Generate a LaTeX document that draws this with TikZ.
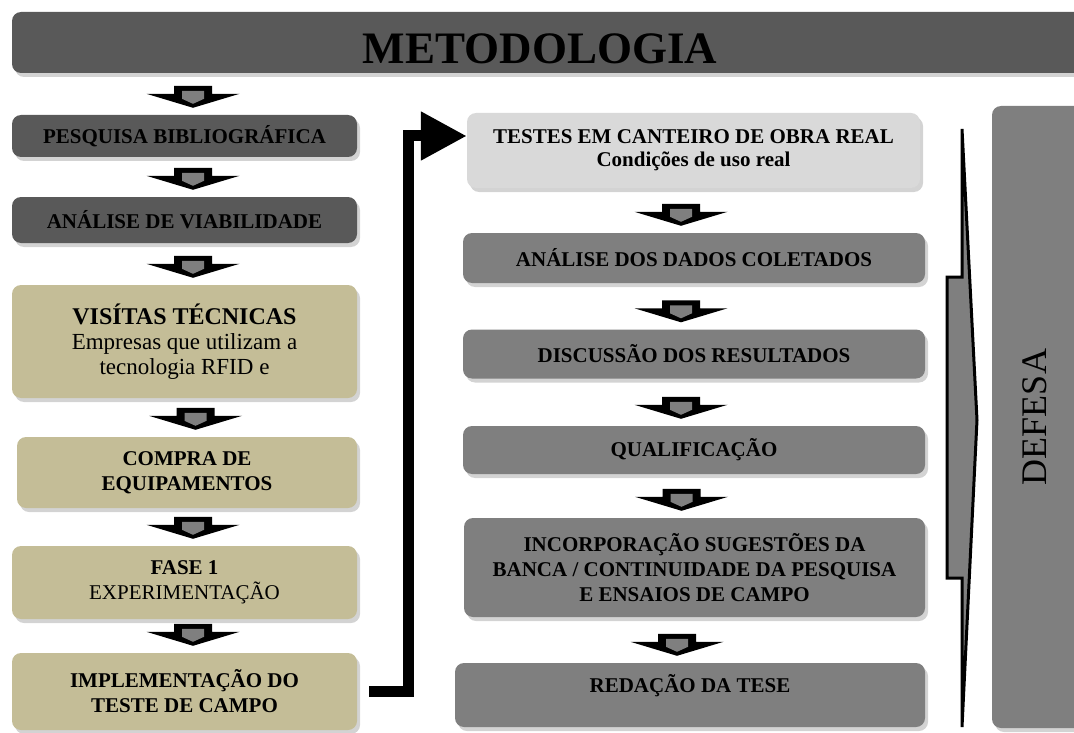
\documentclass[tikz,border=0pt]{standalone}
\usepackage{fontspec}
\setmainfont{Liberation Serif}
\usepackage{graphicx}
\usepackage{tikz}
\usetikzlibrary{positioning,arrows.meta,calc,shadows}
\definecolor{boxdark}{HTML}{595959}
\definecolor{boxmid}{HTML}{7F7F7F}
\definecolor{boxlight}{HTML}{D9D9D9}
\definecolor{boxtan}{HTML}{C4BD97}

\begin{document}
\begin{tikzpicture}[
    x=1pt, y=-1pt,
    basebox/.style={
      rounded corners=9pt,
      align=center,
      inner sep=0pt,
      text=black,
      font=\fontsize{21}{25}\selectfont\bfseries,
      drop shadow={shadow xshift=3pt, shadow yshift=-4pt, opacity=.35}
    },
    darkbox/.style={basebox, fill=boxdark},
    midbox/.style={basebox, fill=boxmid},
    lightbox/.style={basebox, fill=boxlight},
    tanbox/.style={basebox, fill=boxtan},
    titlebox/.style={basebox, fill=boxdark, font=\fontsize{45}{50}\selectfont\bfseries,
      text height=42pt, text depth=0pt},
    jump/.style={-{Triangle[length=46pt,width=46pt]}, draw=black, line width=11pt, line join=miter},
    bracearrow/.style={draw=black, fill=boxmid, line width=3pt, line join=miter},
    pics/blockarrow/.style={code={
      \fill[black] (-19,-11) -- (19,-11) -- (19,-3) -- (46.5,-3) -- (0,11)
        -- (-46.5,-3) -- (-19,-3) -- cycle;
      \fill[boxmid] (-11,-6) -- (11,-6) -- (11,2) -- (0,7) -- (-11,2) -- cycle;
    }}
  ]
    \useasboundingbox (0,0) rectangle (1074,733);

    \node[titlebox, minimum width=1078pt, minimum height=61pt] (title) at (551,42.5) {METODOLOGIA\hspace*{22pt}};

    % left column
    \node[darkbox, minimum width=345pt, minimum height=42pt] (biblio) at (184.5,136) {PESQUISA BIBLIOGRÁFICA};
    \node[darkbox, minimum width=345pt, minimum height=46pt] (viab) at (184.5,220) {ANÁLISE DE VIABILIDADE};
    \node[tanbox, minimum width=345pt, minimum height=113pt] (visitas) at (184.5,341.5) {
      {\fontsize{24}{27}\selectfont VISÍTAS TÉCNICAS}\\
      {\fontsize{23}{26}\selectfont\mdseries Empresas que utilizam a}\\
      {\fontsize{23}{26}\selectfont\mdseries tecnologia RFID e}
    };
    \node[tanbox, minimum width=340pt, minimum height=71pt] (compra) at (187,472.5) {COMPRA DE\\EQUIPAMENTOS};
    \node[tanbox, minimum width=345pt, minimum height=73pt] (fase) at (184.5,582.5) {FASE 1\\{\mdseries EXPERIMENTAÇÃO}};
    \node[tanbox, minimum width=345pt, minimum height=77pt] (implem) at (184.5,691.5) {IMPLEMENTAÇÃO DO\\TESTE DE CAMPO};

    % middle column
    \node[lightbox, minimum width=453pt, minimum height=75pt] (testes) at (693.5,150.5) {
      TESTES EM CANTEIRO DE OBRA REAL\\[-2pt]
      Condições de uso real
    };
    \node[midbox, minimum width=462pt, minimum height=50pt] (dados) at (694,258) {ANÁLISE DOS DADOS COLETADOS};
    \node[midbox, minimum width=462pt, minimum height=49pt] (discussao) at (694,354) {DISCUSSÃO DOS RESULTADOS};
    \node[midbox, minimum width=462pt, minimum height=48pt] (qualif) at (694,450) {QUALIFICAÇÃO};
    \node[midbox, minimum width=461pt, minimum height=99pt] (incorp) at (694.5,567.5) {
      INCORPORAÇÃO SUGESTÕES DA\\
      BANCA / CONTINUIDADE DA PESQUISA\\
      E ENSAIOS DE CAMPO
    };
    \node[midbox, minimum width=470pt, minimum height=64pt, text height=14pt, text depth=20pt] (redacao) at (690,695) {REDAÇÃO DA TESE};

    % right column
    \node[midbox, minimum width=100pt, minimum height=622pt, font=\fontsize{36}{40}\selectfont] (defesa) at (1042,417) {\rotatebox{90}{DEFESA}\hspace*{14pt}};
    \draw[bracearrow] (962,129) -- (977,420) -- (962,727) -- (962,578) -- (947,578)
      -- (947,277) -- (962,277) -- cycle;

    % step arrows
    \foreach \b in {biblio,viab,visitas,compra,fase,implem}
      \pic at ($(\b.north)+(8.5,-18)$) {blockarrow};
    \foreach \b in {dados,discussao,qualif,incorp,redacao}
      \pic at ($(\b.north)+(-13,-18)$) {blockarrow};

    \coordinate (jumptop) at (408,136);
    \draw[jump] ([xshift=12pt]implem.east) -| (jumptop) -- (jumptop -| testes.west);
  \end{tikzpicture}
\end{document}
